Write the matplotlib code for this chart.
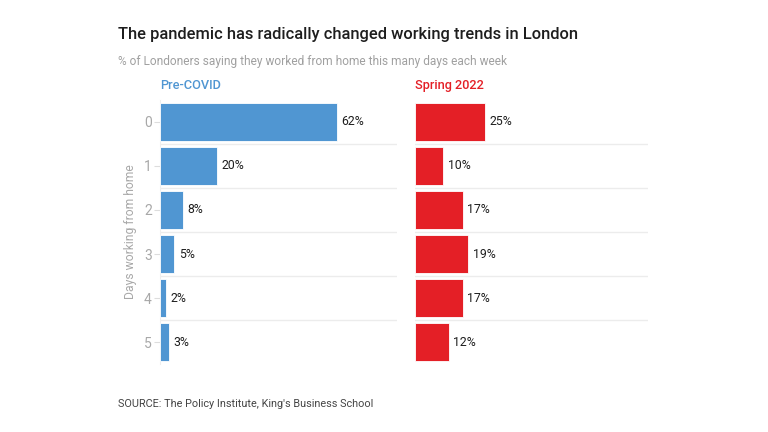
import matplotlib
matplotlib.use('Agg')
import matplotlib.pyplot as plt

plt.rcParams['font.family'] = ['Roboto', 'DejaVu Sans']

# data
days = ['0', '1', '2', '3', '4', '5']
pre_covid = [62, 20, 8, 5, 2, 3]
spring_2022 = [25, 10, 17, 19, 17, 12]
panel_titles = ['Pre-COVID', 'Spring 2022']

BLUE = '#5096d2'
RED = '#e41f26'
GRID = '#ececec'
GREY = '#a8a8a8'
DARK = '#1e1e1e'

fig = plt.figure(figsize=(7.68, 4.32), dpi=100)
W, H = 768, 432

def px_axes(x0, y0, x1, y1):
    return fig.add_axes([x0 / W, 1 - y1 / H, (x1 - x0) / W, (y1 - y0) / H])

ax1 = px_axes(160, 100, 397, 364)
ax2 = px_axes(415, 100, 648, 364)

for ax, vals, col, ttl in [(ax1, pre_covid, BLUE, panel_titles[0]),
                           (ax2, spring_2022, RED, panel_titles[1])]:
    y = list(range(len(days)))
    ax.barh(y, vals, height=0.86, color=col, edgecolor='white', linewidth=0.6, zorder=3)
    ax.set_ylim(len(days) - 0.5, -0.5)
    ax.set_xlim(0, 83)
    for i in range(len(days) - 1):
        ax.axhline(i + 0.5, color=GRID, lw=1, zorder=1)
    for yi, v in zip(y, vals):
        ax.text(v + 1.6, yi, f'{v}%', va='center', ha='left', fontsize=8.8,
                color=DARK)
    for s in ['top', 'right', 'bottom']:
        ax.spines[s].set_visible(False)
    ax.set_xticks([])
    ax.text(0, -0.84, ttl, color=col, fontsize=9.2, fontweight='medium',
            ha='left', va='center', transform=ax.transData)

ax1.spines['left'].set_color('#eeeeee')
ax1.set_yticks(range(len(days)))
ax1.set_yticklabels(days, fontsize=10, color=GREY)
ax1.tick_params(axis='y', length=4, color='#dddddd', pad=2)
ax1.set_ylabel('Days working from home', fontsize=8.7, color=GREY, labelpad=5)

ax2.spines['left'].set_visible(False)
ax2.set_yticks([])

fig.text(118 / W, 1 - 35 / H, 'The pandemic has radically changed working trends in London',
         fontsize=11.9, fontweight='medium', color=DARK, ha='left', va='center')
fig.text(118 / W, 1 - 61.5 / H, '% of Londoners saying they worked from home this many days each week',
         fontsize=8.6, color='#a0a0a0', ha='left', va='center')
fig.text(118 / W, 1 - 404 / H, "SOURCE: The Policy Institute, King's Business School",
         fontsize=7.8, color='#444444', ha='left', va='center')

fig.savefig('out.png', dpi=100, facecolor='white')
